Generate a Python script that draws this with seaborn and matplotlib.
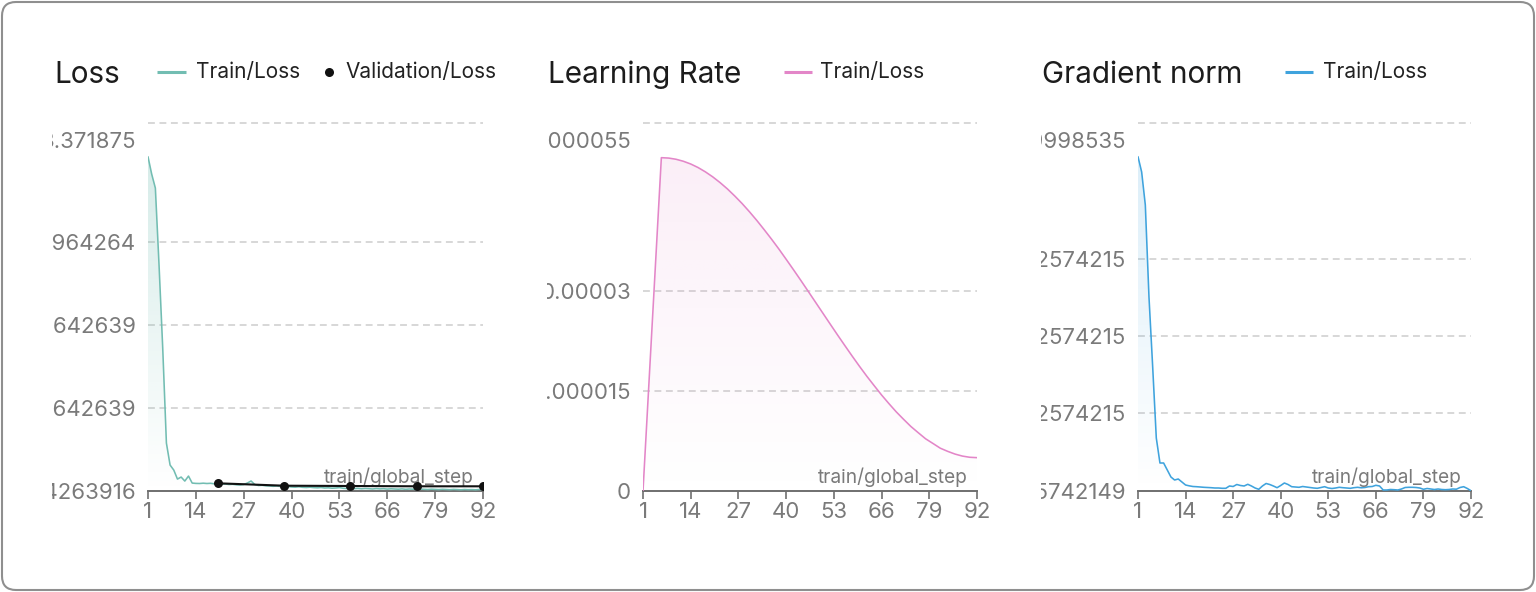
import numpy as np
import matplotlib
matplotlib.use("Agg")
import matplotlib.pyplot as plt
import seaborn as sns
from matplotlib.lines import Line2D
from matplotlib.patches import FancyBboxPatch
from matplotlib.transforms import Bbox, IdentityTransform, offset_copy
from matplotlib.colors import to_rgb

# ---- data ----
steps = list(range(1, 93))

loss_train = [2.432, 2.328, 2.244, 1.782, 1.284, 0.714, 0.582, 0.552, 0.498, 0.510,
              0.486, 0.516, 0.474, 0.472, 0.4714, 0.4732, 0.4714, 0.4726, 0.4696, 0.4684,
              0.4672, 0.4684, 0.4654, 0.4666, 0.4636, 0.4624, 0.4654, 0.4744, 0.4864, 0.4654,
              0.4594, 0.4606, 0.4576, 0.4564, 0.4546, 0.4564, 0.4534, 0.4516, 0.4528, 0.4504,
              0.4492, 0.4516, 0.4486, 0.4474, 0.4492, 0.4468, 0.4456, 0.4474, 0.4444, 0.4456,
              0.4432, 0.4444, 0.4468, 0.4426, 0.4414, 0.4432, 0.4408, 0.4420, 0.4396, 0.4414,
              0.4402, 0.4384, 0.4408, 0.4390, 0.4402, 0.4378, 0.4396, 0.4384, 0.4372, 0.4390,
              0.4366, 0.4384, 0.4372, 0.4360, 0.4378, 0.4366, 0.4354, 0.4372, 0.4360, 0.4348,
              0.4366, 0.4354, 0.4342, 0.4360, 0.4348, 0.4336, 0.4354, 0.4342, 0.4348, 0.4336,
              0.4354, 0.4342]

val_steps = [20, 38, 56, 74, 92]
val_loss = [0.4726, 0.4582, 0.4564, 0.4546, 0.4546]

lr_steps = [1, 6, 8, 10, 12, 14, 16, 18, 20, 22, 24, 26, 28, 30, 32, 34, 36, 38, 40,
            42, 44, 46, 48, 50, 52, 54, 56, 58, 60, 62, 64, 66, 68, 70, 72, 74, 76,
            78, 80, 82, 84, 86, 88, 90, 92]
lr_vals = [0.0, 5.0e-5, 4.994e-5, 4.976e-5, 4.946e-5, 4.905e-5, 4.852e-5, 4.787e-5,
           4.712e-5, 4.626e-5, 4.531e-5, 4.425e-5, 4.312e-5, 4.189e-5, 4.059e-5,
           3.921e-5, 3.779e-5, 3.631e-5, 3.476e-5, 3.319e-5, 3.159e-5, 2.996e-5,
           2.832e-5, 2.668e-5, 2.504e-5, 2.341e-5, 2.181e-5, 2.023e-5, 1.869e-5,
           1.720e-5, 1.579e-5, 1.440e-5, 1.311e-5, 1.187e-5, 1.075e-5, 9.67e-6,
           8.74e-6, 7.83e-6, 7.13e-6, 6.42e-6, 5.95e-6, 5.54e-6, 5.24e-6, 5.06e-6,
           5.0e-6]

grad_norm = [2.2457, 2.1692, 2.0042, 1.5442, 1.1992, 0.8392, 0.7142, 0.7142, 0.6792, 0.6442,
             0.6292, 0.6342, 0.6192, 0.6042, 0.6000, 0.5967, 0.5957, 0.5942, 0.5927, 0.5917,
             0.5907, 0.5892, 0.5892, 0.5877, 0.5877, 0.5992, 0.5967, 0.6067, 0.6017, 0.5992,
             0.6077, 0.5992, 0.5892, 0.5827, 0.5992, 0.6117, 0.6067, 0.5992, 0.5907, 0.6017,
             0.6142, 0.6067, 0.5957, 0.5942, 0.5927, 0.5967, 0.5942, 0.5917, 0.5892, 0.5877,
             0.5917, 0.5957, 0.5892, 0.5867, 0.5892, 0.5927, 0.5907, 0.5892, 0.5877, 0.5907,
             0.5927, 0.5902, 0.5917, 0.5957, 0.5967, 0.6027, 0.5992, 0.5792, 0.5792, 0.5817,
             0.5807, 0.5792, 0.5842, 0.5917, 0.5927, 0.5927, 0.5917, 0.5892, 0.5827, 0.5867,
             0.5842, 0.5817, 0.5842, 0.5817, 0.5807, 0.5817, 0.5842, 0.5832, 0.5917, 0.5957,
             0.5867, 0.5757]

xticks = [1, 14, 27, 40, 53, 66, 79, 92]

loss_ylim = (0.4264, 2.6344)
loss_grid = [0.9244, 1.4224, 1.9204]
loss_tick_pos = [0.4264, 0.9244, 1.4224, 1.9204, 2.5324]
loss_tick_lbl = ["0.4263916", "1.642639", "2.642639", "1.964264", "3.371875"]

lr_ylim = (0.0, 5.52e-5)
lr_grid = [1.5e-5, 3.0e-5]
lr_tick_pos = [0.0, 1.5e-5, 3.0e-5, 5.265e-5]
lr_tick_lbl = ["0", "0.000015", "0.00003", "0.000055"]

gn_ylim = (0.5742, 2.4142)
gn_grid = [0.9642, 1.3492, 1.7342]
gn_tick_pos = [0.5742, 0.9642, 1.3492, 1.7342, 2.3292]
gn_tick_lbl = ["0.05742149", "0.2574215", "0.2574215", "0.2574215", "0.9998535"]

TEAL = "#72bdb2"
PINK = "#e386c8"
BLUE = "#3fa3dd"
TICK_GREY = "#7a7a7a"

W, H = 1536, 592

sns.set_theme(style="white")
plt.rcParams["font.family"] = ["Inter", "DejaVu Sans"]

fig = plt.figure(figsize=(W / 100, H / 100), dpi=100)
fig.patch.set_facecolor("white")

# rounded frame around the whole card
fig.add_artist(FancyBboxPatch((2, 2), W - 4, H - 4,
                              boxstyle="round,pad=0,rounding_size=14",
                              transform=IdentityTransform(), fill=False,
                              ec="#8f8f8f", lw=1.5))


def fx(px):
    return px / W


def fy(py):
    return 1 - py / H


def make_ax(left, right):
    return fig.add_axes([fx(left), fy(491), (right - left) / W, 368 / H])


def gradient_fill(ax, x, y, ylim, color, alpha_top):
    poly = ax.fill_between(x, y, ylim[0], facecolor="none", edgecolor="none")
    grad = np.zeros((256, 1, 4))
    grad[:, 0, :3] = to_rgb(color)
    grad[:, 0, 3] = np.linspace(0, alpha_top, 256)
    im = ax.imshow(grad, extent=[x[0], x[-1], ylim[0], ylim[1]], origin="lower",
                   aspect="auto", zorder=1, interpolation="bilinear")
    im.set_clip_path(poly.get_paths()[0], transform=ax.transData)


def style_ax(ax, ylim, grid, tpos, tlbl):
    ax.set_xlim(1, 92)
    ax.set_ylim(*ylim)
    ax.set_xticks(xticks)
    ax.set_yticks(tpos, tlbl)
    ax.set_xlabel("")
    ax.set_ylabel("")
    sns.despine(ax=ax, left=True)
    ax.spines["bottom"].set_color("#6f6f6f")
    ax.spines["bottom"].set_linewidth(1.4)
    ax.tick_params(axis="x", length=6, width=1.2, color="#6f6f6f",
                   labelcolor=TICK_GREY, labelsize=16, pad=2, bottom=True)
    ax.tick_params(axis="y", length=0, labelcolor=TICK_GREY, labelsize=16, pad=8.5)
    ax.grid(False)
    for g in grid + [ylim[1]]:
        ax.axhline(g, color="#cdcdcd", lw=1.1, ls=(0, (4.5, 3)), clip_on=False, zorder=0.5)
    ax.text(1, 0, "train/global_step", fontsize=13.8, color=TICK_GREY,
            ha="right", va="baseline",
            transform=offset_copy(ax.transAxes, fig=fig, x=-9, y=8, units="dots"))


# ---- Loss ----
ax1 = make_ax(148, 483)
sns.lineplot(x=steps, y=loss_train, ax=ax1, color=TEAL, lw=1.15, legend=False, zorder=3)
gradient_fill(ax1, steps, loss_train, loss_ylim, TEAL, 0.32)
sns.lineplot(x=val_steps, y=val_loss, ax=ax1, color="#111111", lw=1.5, marker="o",
             markersize=6.5, markeredgewidth=0, legend=False, zorder=4)
style_ax(ax1, loss_ylim, loss_grid, loss_tick_pos, loss_tick_lbl)

# ---- Learning rate ----
ax2 = make_ax(643, 977)
sns.lineplot(x=lr_steps, y=lr_vals, ax=ax2, color=PINK, lw=1.15, legend=False, zorder=3)
gradient_fill(ax2, lr_steps, lr_vals, lr_ylim, PINK, 0.15)
style_ax(ax2, lr_ylim, lr_grid, lr_tick_pos, lr_tick_lbl)

# ---- Gradient norm ----
ax3 = make_ax(1138, 1471)
sns.lineplot(x=steps, y=grad_norm, ax=ax3, color=BLUE, lw=1.15, legend=False, zorder=3)
gradient_fill(ax3, steps, grad_norm, gn_ylim, BLUE, 0.2)
style_ax(ax3, gn_ylim, gn_grid, gn_tick_pos, gn_tick_lbl)

# ---- titles and legends ----
TITLE_BASE = 83
LEG_Y = 71.5
LEG_BASE = 78.5
titles = [("Loss", 54), ("Learning Rate", 548), ("Gradient norm", 1042)]
for t, x in titles:
    fig.text(fx(x), fy(TITLE_BASE), t, fontsize=21.4, color="#1c1c1c",
             ha="left", va="baseline")

legend_items = [(157, 186, 196, TEAL, "Train/Loss"),
                (784, 812, 820, PINK, "Train/Loss"),
                (1285, 1313, 1323, BLUE, "Train/Loss")]
for x0, x1, xt, c, lab in legend_items:
    fig.add_artist(Line2D([fx(x0), fx(x1)], [fy(LEG_Y), fy(LEG_Y)],
                          transform=fig.transFigure, color=c, lw=2.2,
                          solid_capstyle="butt"))
    fig.text(fx(xt), fy(LEG_BASE), lab, fontsize=15, color="#222222",
             ha="left", va="baseline")
fig.add_artist(Line2D([fx(329)], [fy(LEG_Y)], transform=fig.transFigure,
                      color="#111111", marker="o", markersize=6.5,
                      markeredgewidth=0, lw=0))
fig.text(fx(345), fy(LEG_BASE), "Validation/Loss", fontsize=15, color="#222222",
         ha="left", va="baseline")

# y tick labels are cut off at each card column's left edge
fig.canvas.draw()
for ax, clip_left in zip([ax1, ax2, ax3], [52, 547, 1041]):
    box = Bbox.from_extents(clip_left, 0, W, H)
    for lbl in ax.get_yticklabels():
        lbl.set_clip_box(box)
        lbl.set_clip_on(True)

fig.savefig("out.png", dpi=100)
